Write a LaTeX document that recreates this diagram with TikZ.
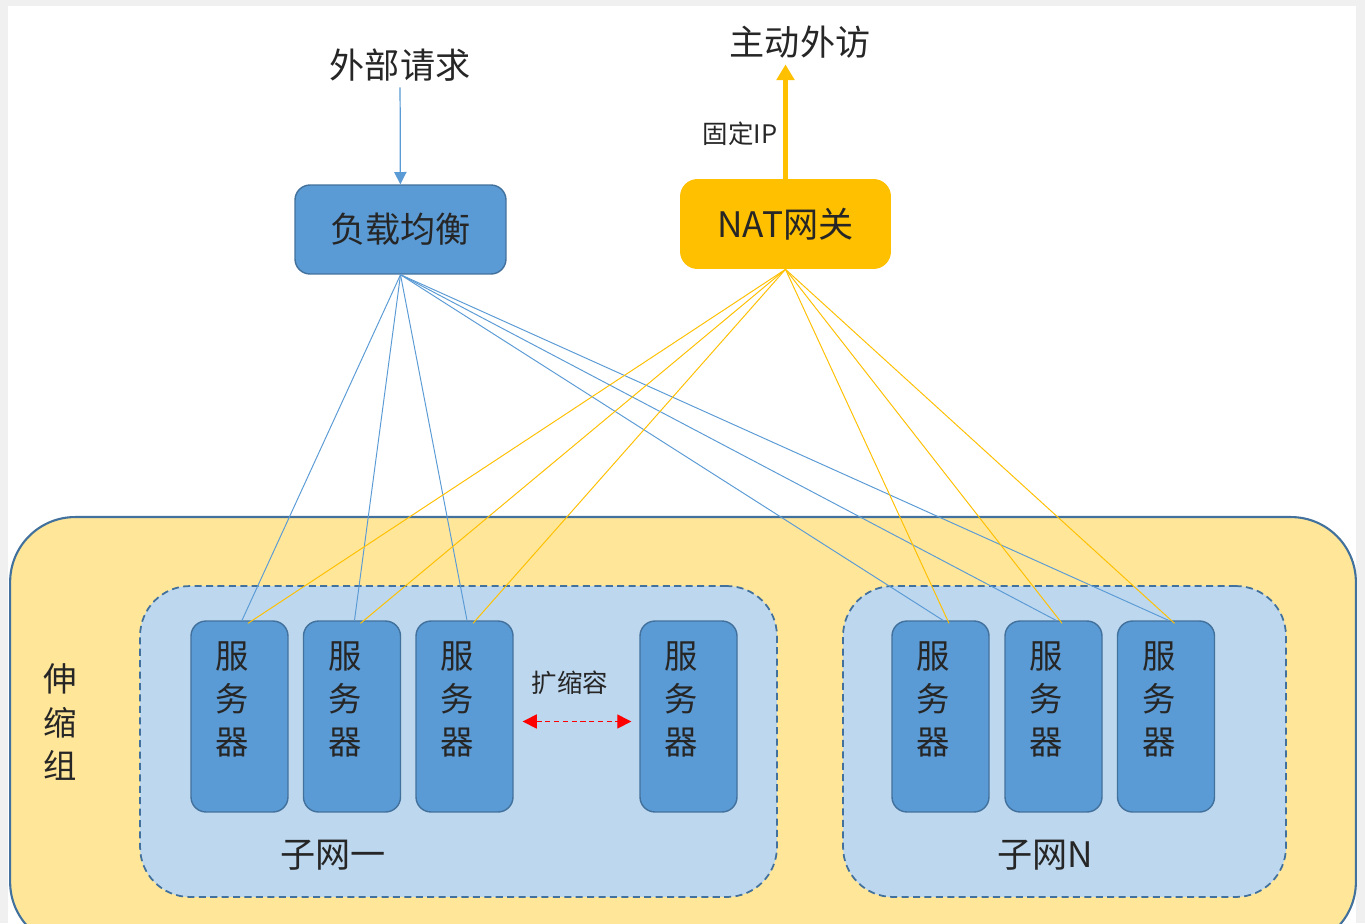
\documentclass[tikz,border=0pt]{standalone}
\usepackage{fontspec}
\setmainfont{Noto Sans CJK SC}
\usetikzlibrary{arrows.meta}
\definecolor{boxblue}{HTML}{5B9BD5}
\definecolor{edgeblue}{HTML}{41719C}
\definecolor{paleblue}{HTML}{BDD7EE}
\definecolor{natorange}{HTML}{FFC000}
\definecolor{groupyellow}{HTML}{FFE699}
\begin{document}
\begin{tikzpicture}[x=0.02cm,y=-0.02cm,
    txt/.style={text=black!85,font=\fontsize{20}{24}\selectfont},
    small/.style={text=black!85,font=\fontsize{14.5}{17}\selectfont},
    server/.style={draw=edgeblue,line width=0.8pt,fill=boxblue,rounded corners=0.3cm,
      minimum width=1.94cm,minimum height=3.82cm,
      label={[anchor=north,yshift=-0.3cm,xshift=-0.14cm,align=center,text=black!85,
        font=\fontsize{19}{24.5}\selectfont]north:服\\务\\器}},
    subnet/.style={draw=edgeblue,line width=1pt,dash pattern=on 4pt off 2.5pt,fill=paleblue,
      rounded corners=1cm,minimum height=6.22cm},
    blueline/.style={boxblue,line width=0.55pt},
    natline/.style={natorange,line width=0.55pt}]
  \useasboundingbox (0,0) rectangle (1365,923);
  \clip (0,0) rectangle (1365,923);
  \fill[gray!12] (0,0) rectangle (1365,923);
  \fill[white] (8,6) rectangle (1356,923);
  % scaling group and subnets
  \node[draw=edgeblue,line width=1.2pt,fill=groupyellow,rounded corners=1.3cm,
    minimum width=26.92cm,minimum height=8.6cm] (grp) at (683,732) {};
  \node[subnet,minimum width=12.74cm] (sub1) at (458.5,741.5) {};
  \node[subnet,minimum width=8.86cm] (subn) at (1064.5,741.5) {};
  \node[txt,align=center,font=\fontsize{19}{24.5}\selectfont] (grplbl) at (60,722) {伸\\缩\\组};
  \node[txt] (sub1lbl) at (333,855) {子网一};
  \node[txt] (subnlbl) at (1045,855) {子网N};
  % servers
  \node[server] (s1) at (239.5,716.5) {};
  \node[server] (s2) at (352,716.5) {};
  \node[server] (s3) at (464.5,716.5) {};
  \node[server] (s4) at (688.5,716.5) {};
  \node[server] (n1) at (940.5,716.5) {};
  \node[server] (n2) at (1053.5,716.5) {};
  \node[server] (n3) at (1166,716.5) {};
  \node[small] (scalelbl) at (570,683) {扩缩容};
  \draw[red,line width=0.8pt,dash pattern=on 3pt off 2pt,
    {Triangle[length=8pt,width=8pt]}-{Triangle[length=8pt,width=8pt]}]
    ([xshift=0.18cm,yshift=-0.1cm]s3.east) -- ([xshift=-0.16cm,yshift=-0.1cm]s4.west);
  % entry boxes
  \node[draw=edgeblue,line width=0.8pt,fill=boxblue,rounded corners=0.3cm,
    minimum width=4.22cm,minimum height=1.78cm,txt] (lb) at (400.5,229.5) {负载均衡};
  \node[fill=natorange,rounded corners=0.35cm,
    minimum width=4.22cm,minimum height=1.8cm,txt] (nat) at (785.5,224) {NAT网关};
  \node[txt] (req) at (400,65) {外部请求};
  \node[txt] (out) at (800,42) {主动外访};
  \node[small] (fixip) at (740,134) {固定IP};
  \draw[boxblue,line width=0.7pt,-{Triangle[length=7pt,width=7pt]}] (req) -- (lb);
  \draw[natorange,line width=3pt,-{Triangle[length=9pt,width=10pt]}] (nat.north) -- (nat.north |- out.south);
  % links to servers
  \foreach \s in {s1,s2,s3,n1,n2,n3}
    \draw[blueline] (lb.south) -- ([xshift=0.05cm]\s.north);
  \foreach \s in {s1,s2,s3,n1,n2,n3}
    \draw[natline] (nat.south) -- ([xshift=0.17cm,yshift=-0.06cm]\s.north);
\end{tikzpicture}
\end{document}
